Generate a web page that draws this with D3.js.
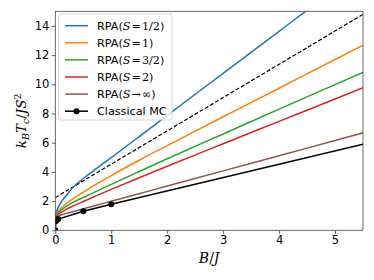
<!DOCTYPE html>
<html>
<head>
<meta charset="utf-8">
<script src="https://cdn.jsdelivr.net/npm/d3@7"></script>
<style>
html,body{margin:0;padding:0;background:#fff;}
svg{display:block;}
</style>
</head>
<body>
<svg id="chart" width="374" height="280"></svg>
<script>
// ---- data ----
const xGrid = [0.002, 0.01, 0.02, 0.05, 0.1, 0.2, 0.3, 0.5, 0.75, 1, 1.5, 2, 3, 4, 5, 5.5];
const rpaHalf      = [0.9, 1.1, 1.25, 1.55, 1.9, 2.4, 2.88, 3.55, 4.27, 4.98, 6.42, 7.87, 10.75, 13.63, 16.5, 17.9];
const rpaOne       = [0.88, 1.0, 1.1, 1.3, 1.52, 1.85, 2.12, 2.62, 3.2, 3.75, 4.8, 5.8, 7.78, 9.73, 11.7, 12.67];
const rpaThreeHalf = [0.86, 0.97, 1.05, 1.2, 1.37, 1.65, 1.88, 2.25, 2.7, 3.15, 4.03, 4.9, 6.6, 8.3, 9.98, 10.82];
const rpaTwo       = [0.85, 0.93, 0.99, 1.1, 1.22, 1.45, 1.63, 1.97, 2.39, 2.8, 3.6, 4.39, 5.93, 7.46, 8.99, 9.77];
const rpaInf       = [0.8, 0.87, 0.91, 0.98, 1.05, 1.16, 1.26, 1.47, 1.73, 1.99, 2.51, 3.03, 4.07, 5.11, 6.15, 6.67];
const dashedX = [0, 5.5];
const dashedY = [2.25, 14.79];
const mcX = [0, 0.01, 0.025, 0.05, 0.5, 1];
const mcY = [0, 0.62, 0.7, 0.77, 1.3, 1.78];
const mcLineX = [1, 5.5];
const mcLineY = [1.78, 5.89];
const seriesVar = ["S", "S", "S", "S", "S"];
const seriesRel = ["=", "=", "=", "=", "→"];
const seriesVal = ["1/2", "1", "3/2", "2", "∞"];
const seriesColors = ["#1f77b4", "#ff7f0e", "#2ca02c", "#d62728", "#8c564b"];
const xTicks = [0, 1, 2, 3, 4, 5];
const yTicks = [0, 2, 4, 6, 8, 10, 12, 14];
const mcLabel = "Classical MC";

const rpaSeries = [rpaHalf, rpaOne, rpaThreeHalf, rpaTwo, rpaInf];

// ---- layout ----
const svg = d3.select("#chart");
const L = 55.3, R = 363, T = 11.3, B = 230.3;
const x = d3.scaleLinear().domain([0, 5.5]).range([L, R]);
const y = d3.scaleLinear().domain([0, 15]).range([B, T]);
const sansFont = "'DejaVu Sans', sans-serif";
const mathFont = "'DejaVu Serif', serif";

svg.append("defs").append("clipPath").attr("id", "plotclip")
  .append("rect").attr("x", L).attr("y", T).attr("width", R - L).attr("height", B - T);

const plot = svg.append("g").attr("clip-path", "url(#plotclip)");
const line = d3.line().x(d => x(d[0])).y(d => y(d[1])).curve(d3.curveMonotoneX);

// dashed reference line
plot.append("path")
  .attr("d", line(dashedX.map((v, i) => [v, dashedY[i]])))
  .attr("fill", "none").attr("stroke", "#000").attr("stroke-width", 1.2)
  .attr("stroke-dasharray", "4,2");

// RPA curves
rpaSeries.forEach((ys, k) => {
  plot.append("path")
    .attr("d", line(xGrid.map((v, i) => [v, ys[i]])))
    .attr("fill", "none").attr("stroke", seriesColors[k]).attr("stroke-width", 1.5);
});

// Classical MC
const lineLin = d3.line().x(d => x(d[0])).y(d => y(d[1]));
plot.append("path")
  .attr("d", lineLin(mcX.map((v, i) => [v, mcY[i]])))
  .attr("fill", "none").attr("stroke", "#000").attr("stroke-width", 1.5);
plot.append("path")
  .attr("d", lineLin(mcLineX.map((v, i) => [v, mcLineY[i]])))
  .attr("fill", "none").attr("stroke", "#000").attr("stroke-width", 1.5);
plot.selectAll("circle.mc").data(mcX.map((v, i) => [v, mcY[i]])).enter()
  .append("circle").attr("class", "mc")
  .attr("cx", d => x(d[0])).attr("cy", d => y(d[1])).attr("r", 3).attr("fill", "#000");

// ---- axes ----
const xAxis = svg.append("g").attr("transform", `translate(0,${B})`)
  .call(d3.axisBottom(x).tickValues(xTicks).tickSize(3.5).tickPadding(2).tickFormat(d3.format("d")));
const yAxis = svg.append("g").attr("transform", `translate(${L},0)`)
  .call(d3.axisLeft(y).tickValues(yTicks).tickSize(3.5).tickPadding(2.5).tickFormat(d3.format("d")));
[xAxis, yAxis].forEach(g => {
  g.select(".domain").remove();
  g.selectAll("line").attr("stroke", "#333").attr("stroke-width", 0.8);
  g.selectAll("text").attr("font-family", sansFont).attr("font-size", 11.5).attr("fill", "#000");
});

// frame
svg.append("rect").attr("x", L).attr("y", T).attr("width", R - L).attr("height", B - T)
  .attr("fill", "none").attr("stroke", "#444").attr("stroke-width", 0.8);

// x label B/J
const xl = svg.append("text").attr("x", (L + R) / 2).attr("y", 263)
  .attr("text-anchor", "middle").attr("font-family", mathFont).attr("font-size", 14);
xl.append("tspan").attr("font-style", "italic").text("B");
xl.append("tspan").text("/");
xl.append("tspan").attr("font-style", "italic").text("J");

// y label k_B T_c / J S^2
const yl = svg.append("text")
  .attr("transform", `translate(26,${(T + B) / 2}) rotate(-90)`)
  .attr("text-anchor", "middle").attr("font-family", mathFont).attr("font-size", 13.5);
yl.append("tspan").attr("font-style", "italic").text("k");
yl.append("tspan").attr("font-style", "italic").attr("font-size", 9.5).attr("dy", 3).text("B");
yl.append("tspan").attr("font-style", "italic").attr("dy", -3).text("T");
yl.append("tspan").attr("font-style", "italic").attr("font-size", 9.5).attr("dy", 3).text("c");
yl.append("tspan").attr("dy", -3).text("/");
yl.append("tspan").attr("font-style", "italic").text("JS");
yl.append("tspan").attr("font-size", 9.5).attr("dy", -5).text("2");

// ---- legend ----
const lg = svg.append("g");
lg.append("rect").attr("x", 58.5).attr("y", 14).attr("width", 113.5).attr("height", 106)
  .attr("rx", 2.5).attr("fill", "#fff").attr("fill-opacity", 0.8)
  .attr("stroke", "#ccc").attr("stroke-width", 0.8);
const rowY0 = 25.7, rowDy = 17.1;
seriesVar.forEach((v, k) => {
  const yy = rowY0 + k * rowDy;
  lg.append("line").attr("x1", 65).attr("x2", 88).attr("y1", yy).attr("y2", yy)
    .attr("stroke", seriesColors[k]).attr("stroke-width", 1.5);
  const t = lg.append("text").attr("x", 97).attr("y", yy + 4)
    .attr("font-family", sansFont).attr("font-size", 11.2);
  t.append("tspan").text("RPA(");
  t.append("tspan").attr("font-family", mathFont).attr("font-style", "italic").text(v);
  t.append("tspan").attr("font-family", mathFont).attr("dx", 1).text(seriesRel[k]);
  t.append("tspan").attr("font-family", mathFont).attr("dx", 1).text(seriesVal[k]);
  t.append("tspan").text(")");
});
{
  const yy = rowY0 + 5 * rowDy;
  lg.append("line").attr("x1", 65).attr("x2", 88).attr("y1", yy).attr("y2", yy)
    .attr("stroke", "#000").attr("stroke-width", 1.5);
  lg.append("circle").attr("cx", 76.5).attr("cy", yy).attr("r", 3).attr("fill", "#000");
  lg.append("text").attr("x", 97).attr("y", yy + 4)
    .attr("font-family", sansFont).attr("font-size", 11.2).text(mcLabel);
}
</script>
</body>
</html>
